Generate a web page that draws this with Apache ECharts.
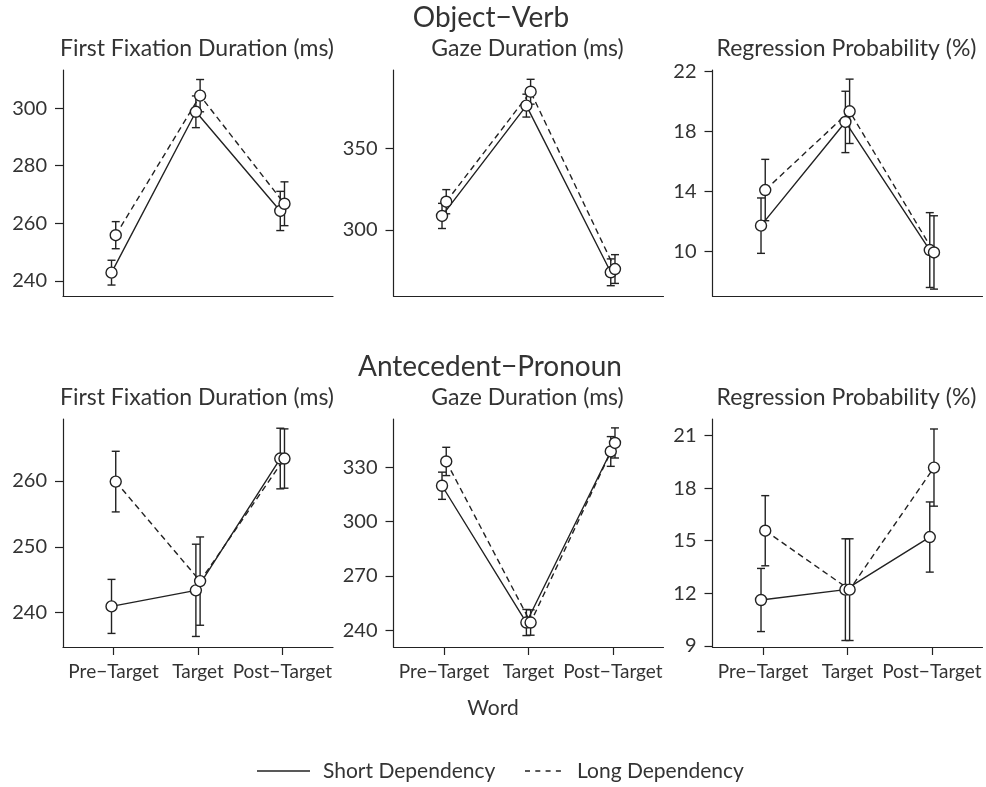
<!DOCTYPE html>
<html>
<head>
<meta charset="utf-8">
<script src="https://cdn.jsdelivr.net/npm/echarts@6/dist/echarts.min.js"></script>
<style>
  html, body { margin: 0; padding: 0; background: #fff; }
  #chart { width: 986px; height: 787px; }
</style>
</head>
<body>
<div id="chart"></div>
<script>
// categories on the x axis (same for every panel)
let words = ['Pre\u2212Target', 'Target', 'Post\u2212Target'];
let groupNames = ['Short Dependency', 'Long Dependency'];

// Object-Verb, first fixation duration
let ovFfdShort = [242.9, 298.7, 264.3];
let ovFfdShortErr = [4.3, 5.5, 6.8];
let ovFfdLong = [255.9, 304.3, 266.8];
let ovFfdLongErr = [4.7, 5.6, 7.6];
let ovFfdTicks = [240, 260, 280, 300];

// Object-Verb, gaze duration
let ovGdShort = [308.6, 376.1, 274.1];
let ovGdShortErr = [7.7, 7.0, 8.2];
let ovGdLong = [317.3, 384.6, 276.1];
let ovGdLongErr = [7.4, 7.6, 8.8];
let ovGdTicks = [300, 350];

// Object-Verb, regression probability
let ovRpShort = [11.7, 18.63, 10.07];
let ovRpShortErr = [1.85, 2.05, 2.5];
let ovRpLong = [14.08, 19.34, 9.91];
let ovRpLongErr = [2.05, 2.15, 2.45];
let ovRpTicks = [10, 14, 18, 22];

// Antecedent-Pronoun, first fixation duration
let apFfdShort = [240.96, 243.4, 263.4];
let apFfdShortErr = [4.1, 7.0, 4.6];
let apFfdLong = [259.9, 244.8, 263.4];
let apFfdLongErr = [4.6, 6.7, 4.5];
let apFfdTicks = [240, 250, 260];

// Antecedent-Pronoun, gaze duration
let apGdShort = [319.7, 244.3, 338.6];
let apGdShortErr = [7.5, 7.2, 8.2];
let apGdLong = [333.1, 244.3, 343.3];
let apGdLongErr = [7.8, 7.0, 8.3];
let apGdTicks = [240, 270, 300, 330];

// Antecedent-Pronoun, regression probability
let apRpShort = [11.62, 12.21, 15.21];
let apRpShortErr = [1.8, 2.9, 2.0];
let apRpLong = [15.57, 12.21, 19.17];
let apRpLongErr = [2.0, 2.9, 2.2];
let apRpTicks = [9, 12, 15, 18, 21];

let ink = '#222';
let textColor = '#333';
let font = 'Lato';
let dodge = 0.025;
let dashed = [6, 4];

let panels = [
    {title: 'First Fixation Duration (ms)', s: ovFfdShort, se: ovFfdShortErr, l: ovFfdLong, le: ovFfdLongErr, ticks: ovFfdTicks, min: 234.8, max: 313.2, left: 63, top: 70, height: 226, bottomRow: false},
    {title: 'Gaze Duration (ms)', s: ovGdShort, se: ovGdShortErr, l: ovGdLong, le: ovGdLongErr, ticks: ovGdTicks, min: 259.6, max: 397.9, left: 393.5, top: 70, height: 226, bottomRow: false},
    {title: 'Regression Probability (%)', s: ovRpShort, se: ovRpShortErr, l: ovRpLong, le: ovRpLongErr, ticks: ovRpTicks, min: 7.0, max: 22.1, left: 712.5, top: 70, height: 226, bottomRow: false},
    {title: 'First Fixation Duration (ms)', s: apFfdShort, se: apFfdShortErr, l: apFfdLong, le: apFfdLongErr, ticks: apFfdTicks, min: 234.8, max: 269.4, left: 63, top: 419, height: 228, bottomRow: true},
    {title: 'Gaze Duration (ms)', s: apGdShort, se: apGdShortErr, l: apGdLong, le: apGdLongErr, ticks: apGdTicks, min: 230.8, max: 356.5, left: 393.5, top: 419, height: 228, bottomRow: true},
    {title: 'Regression Probability (%)', s: apRpShort, se: apRpShortErr, l: apRpLong, le: apRpLongErr, ticks: apRpTicks, min: 8.94, max: 21.94, left: 712.5, top: 419, height: 228, bottomRow: true}
];

function errorBarSeries(idx, means, errs, shift){
    let data = [];
    for(let i = 0;i<means.length;i++){
        data.push([i + 1 + shift, means[i] - errs[i], means[i] + errs[i]]);
    }
    return {
        type: 'custom',
        xAxisIndex: idx,
        yAxisIndex: idx,
        z: 1,
        silent: true,
        encode: {x: 0, y: [1, 2]},
        data: data,
        renderItem: function(params, api){
            let x = api.value(0);
            let lo = api.coord([x, api.value(1)]);
            let hi = api.coord([x, api.value(2)]);
            let w = 4;
            let style = {stroke: ink, lineWidth: 1.4};
            return {
                type: 'group',
                children: [
                    {type: 'line', shape: {x1: lo[0], y1: lo[1], x2: hi[0], y2: hi[1]}, style: style},
                    {type: 'line', shape: {x1: lo[0] - w, y1: lo[1], x2: lo[0] + w, y2: lo[1]}, style: style},
                    {type: 'line', shape: {x1: hi[0] - w, y1: hi[1], x2: hi[0] + w, y2: hi[1]}, style: style}
                ]
            };
        }
    };
}

function points(means, shift){
    let data = [];
    for(let i = 0;i<means.length;i++){
        data.push([i + 1 + shift, means[i]]);
    }
    return data;
}

let grids = [];
let xAxes = [];
let yAxes = [];
let series = [];
let texts = [];

for(let i = 0;i<panels.length;i++){
    let p = panels[i];
    grids.push({left: p.left, top: p.top, width: 270, height: p.height});
    xAxes.push({
        type: 'value',
        gridIndex: i,
        min: 0.4,
        max: 3.6,
        splitLine: {show: false},
        axisLine: {onZero: false, lineStyle: {color: ink, width: 1.2}},
        axisTick: {show: p.bottomRow, length: 8, customValues: [1, 2, 3], lineStyle: {color: ink, width: 1.2}},
        axisLabel: {
            show: p.bottomRow,
            customValues: [1, 2, 3],
            margin: 15,
            color: textColor,
            fontFamily: font,
            fontSize: 19,
            formatter: function(v){ return words[Math.round(v) - 1]; }
        }
    });
    yAxes.push({
        type: 'value',
        gridIndex: i,
        min: p.min,
        max: p.max,
        splitLine: {show: false},
        axisLine: {show: true, onZero: false, lineStyle: {color: ink, width: 1.2}},
        axisTick: {show: true, length: 8, customValues: p.ticks, lineStyle: {color: ink, width: 1.2}},
        axisLabel: {
            customValues: p.ticks,
            margin: 16,
            color: textColor,
            fontFamily: font,
            fontSize: 20
        }
    });

    series.push(errorBarSeries(i, p.s, p.se, -dodge));
    series.push(errorBarSeries(i, p.l, p.le, dodge));
    series.push({
        name: groupNames[0],
        type: 'line',
        xAxisIndex: i,
        yAxisIndex: i,
        z: 2,
        symbol: 'none',
        silent: true,
        lineStyle: {color: ink, width: 1.4, type: 'solid'},
        data: points(p.s, -dodge)
    });
    series.push({
        name: groupNames[1],
        type: 'line',
        xAxisIndex: i,
        yAxisIndex: i,
        z: 2,
        symbol: 'none',
        silent: true,
        lineStyle: {color: ink, width: 1.4, type: dashed},
        data: points(p.l, dodge)
    });
    series.push({
        type: 'scatter',
        xAxisIndex: i,
        yAxisIndex: i,
        z: 3,
        symbol: 'circle',
        symbolSize: 11,
        silent: true,
        itemStyle: {color: '#fff', borderColor: ink, borderWidth: 1.4, opacity: 1},
        data: points(p.s, -dodge).concat(points(p.l, dodge))
    });

    texts.push({
        type: 'text',
        x: p.left + 134,
        y: p.top - 21,
        style: {text: p.title, fill: textColor, font: '23px ' + font, textAlign: 'center', textVerticalAlign: 'middle'}
    });
}

texts.push({type: 'text', x: 491, y: 18, style: {text: 'Object\u2212Verb', fill: textColor, font: '28px ' + font, textAlign: 'center', textVerticalAlign: 'middle'}});
texts.push({type: 'text', x: 490, y: 367, style: {text: 'Antecedent\u2212Pronoun', fill: textColor, font: '28px ' + font, textAlign: 'center', textVerticalAlign: 'middle'}});
texts.push({type: 'text', x: 493, y: 708, style: {text: 'Word', fill: textColor, font: '21px ' + font, textAlign: 'center', textVerticalAlign: 'middle'}});

// legend keys drawn as plain lines so the keys carry no point symbol
let legendY = 771;
texts.push({type: 'line', shape: {x1: 257, y1: legendY, x2: 310, y2: legendY}, style: {stroke: ink, lineWidth: 1.4}});
texts.push({type: 'text', x: 323, y: legendY, style: {text: groupNames[0], fill: textColor, font: '21px ' + font, textAlign: 'left', textVerticalAlign: 'middle'}});
texts.push({type: 'line', shape: {x1: 525, y1: legendY, x2: 561, y2: legendY}, style: {stroke: ink, lineWidth: 1.4, lineDash: [5, 5.3]}});
texts.push({type: 'text', x: 577, y: legendY, style: {text: groupNames[1], fill: textColor, font: '21px ' + font, textAlign: 'left', textVerticalAlign: 'middle'}});

let myChart = echarts.init(document.getElementById('chart'));
let option = {
    backgroundColor: '#fff',
    animation: false,
    grid: grids,
    xAxis: xAxes,
    yAxis: yAxes,
    graphic: texts,
    series: series
};
myChart.setOption(option);
</script>
</body>
</html>
